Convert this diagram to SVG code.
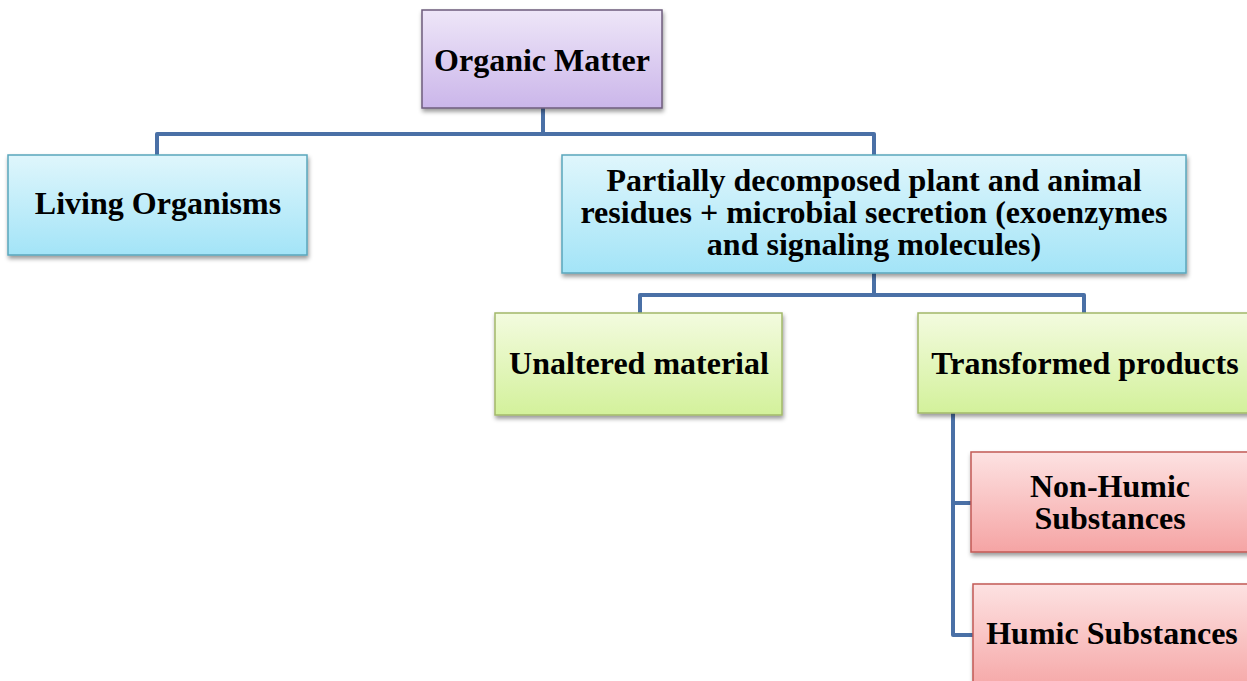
<svg xmlns="http://www.w3.org/2000/svg" width="1247" height="681" viewBox="0 0 1247 681">
<defs>
<linearGradient id="gP" x1="0" y1="0" x2="0" y2="1"><stop offset="0" stop-color="#eee6f8"/><stop offset="1" stop-color="#cbb6ea"/></linearGradient>
<linearGradient id="gB" x1="0" y1="0" x2="0" y2="1"><stop offset="0" stop-color="#dff6fc"/><stop offset="1" stop-color="#a3e4f7"/></linearGradient>
<linearGradient id="gG" x1="0" y1="0" x2="0" y2="1"><stop offset="0" stop-color="#f3fbdf"/><stop offset="1" stop-color="#d3f19b"/></linearGradient>
<linearGradient id="gR" x1="0" y1="0" x2="0" y2="1"><stop offset="0" stop-color="#fde2e2"/><stop offset="1" stop-color="#f5a4a4"/></linearGradient>
<filter id="sh" x="-10%" y="-10%" width="130%" height="140%"><feDropShadow dx="1" dy="3" stdDeviation="2" flood-color="#000" flood-opacity="0.4"/></filter>
</defs>
<style>
.t{font-family:"Liberation Serif","Times New Roman",serif;font-weight:bold;font-size:32px;fill:#000;text-anchor:middle}
.c{fill:none;stroke:#4a70a6;stroke-width:4;stroke-linejoin:round}
.p{fill:url(#gP);stroke:#6e5c7c;stroke-width:1.5;filter:url(#sh)}
.b{fill:url(#gB);stroke:#5aa6bc;stroke-width:1.5;filter:url(#sh)}
.g{fill:url(#gG);stroke:#a2b86a;stroke-width:1.5;filter:url(#sh)}
.r{fill:url(#gR);stroke:#c25a56;stroke-width:1.5;filter:url(#sh)}
</style>
<rect width="1247" height="681" fill="#fff"/>
<g id="connectors">
<path class="c" d="M543 108 V134 M157 155 V134 H874 V155"/>
<path class="c" d="M874 273 V295 M640 313 V295 H1084 V313"/>
<path class="c" d="M953 413 V635 H973 M953 503 H971"/>
</g>
<g id="organic-matter">
<rect class="p" x="422" y="10" width="240" height="98"/>
<text class="t" x="542" y="71">Organic Matter</text>
</g>
<g id="living-organisms">
<rect class="b" x="8" y="155" width="299" height="100"/>
<text class="t" x="158" y="214">Living Organisms</text>
</g>
<g id="partially-decomposed">
<rect class="b" x="562" y="155" width="624" height="118"/>
<text class="t" x="874" y="191">Partially decomposed plant and animal</text>
<text class="t" x="874" y="223">residues + microbial secretion (exoenzymes</text>
<text class="t" x="874" y="255">and signaling molecules)</text>
</g>
<g id="unaltered-material">
<rect class="g" x="495" y="313" width="287" height="102"/>
<text class="t" x="639" y="374">Unaltered material</text>
</g>
<g id="transformed-products">
<rect class="g" x="918" y="313" width="340" height="100"/>
<text class="t" x="1085" y="374">Transformed products</text>
</g>
<g id="non-humic">
<rect class="r" x="971" y="452" width="290" height="100"/>
<text class="t" x="1110" y="497">Non-Humic</text>
<text class="t" x="1110" y="529">Substances</text>
</g>
<g id="humic">
<rect class="r" x="973" y="584" width="290" height="110"/>
<text class="t" x="1112" y="644">Humic Substances</text>
</g>
</svg>
